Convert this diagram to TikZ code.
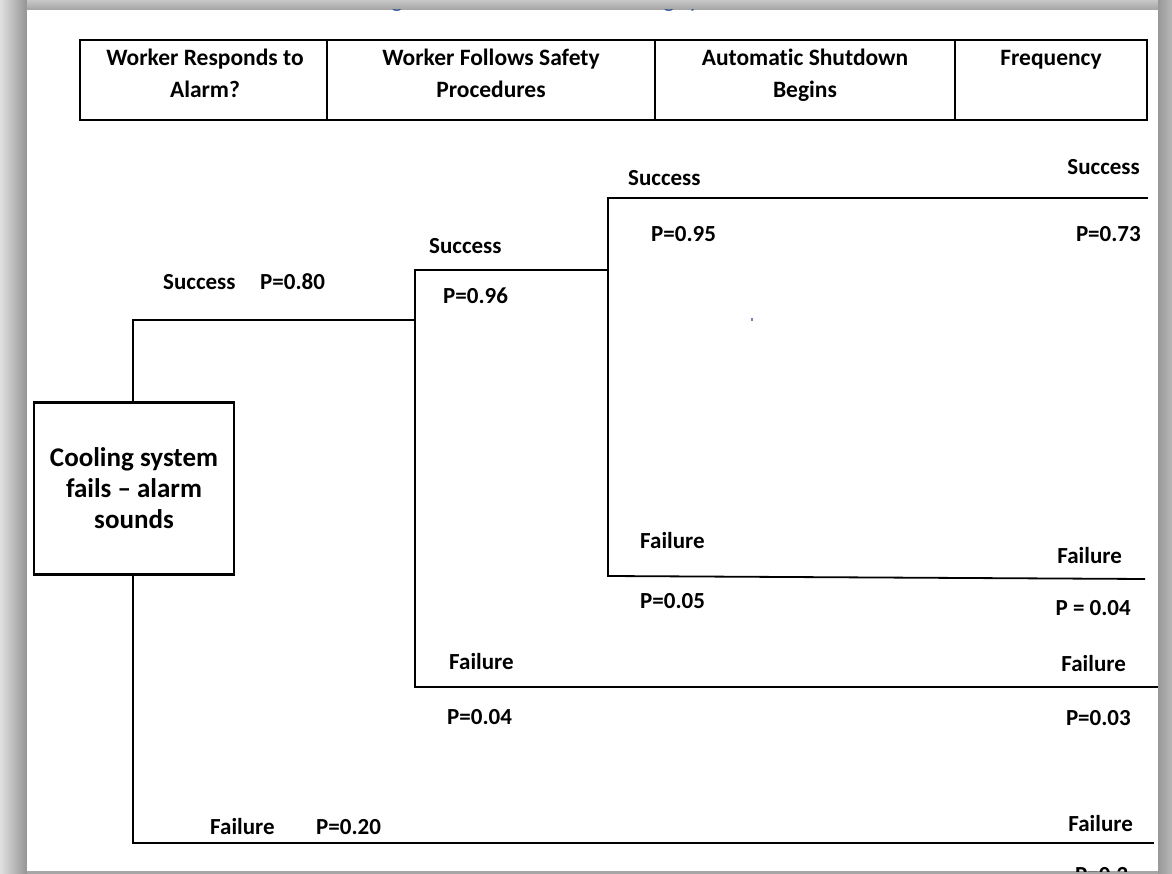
\documentclass[tikz,border=0pt]{standalone}
\usepackage{fontspec}
\usetikzlibrary{calc}
\setmainfont{Carlito}[Ligatures=NoCommon]
\definecolor{capblue}{HTML}{2F5496}
\begin{document}
\begin{tikzpicture}[x=1pt,y=-1pt,
  lbl/.style={font=\fontsize{23}{28}\selectfont\bfseries, inner sep=0pt},
  head/.style={font=\fontsize{23.5}{32}\selectfont\bfseries, inner sep=0pt, align=center},
  branch/.style={line width=1.8pt, line cap=rect},
  stem/.style={line width=1.4pt},
  grid/.style={line width=1.3pt}
]
\useasboundingbox (0,0) rectangle (1172,874);

% drop shadow around the page
\fill[black!33] (0,0) rectangle (1172,874);
\shade[left color=black!12, right color=black!42] (0,0) rectangle (27,874);
\shade[top color=black!22, bottom color=black!36] (27,0) rectangle (1158,10);
\shade[left color=black!40, right color=black!28] (1158,0) rectangle (1172,874);
\fill[black!35] (27,871) rectangle (1158,874);

% page
\fill[white] (27,10) rectangle (1158,871);

\begin{scope}
\clip (27,10) rectangle (1158,871);

% caption line, cut off by the page edge
\node[lbl, font=\fontsize{23}{28}\selectfont, text=capblue, anchor=base] (capa) at (397,8) {g};
\node[lbl, font=\fontsize{23}{28}\selectfont, text=capblue, anchor=base] (capb) at (669,8) {g};
\node[lbl, font=\fontsize{23}{28}\selectfont, text=capblue, anchor=base] (capc) at (694,8) {y};

% header table
\draw[grid] (80,40) rectangle (1147,120);
\draw[grid] (327,40) -- (327,120);
\draw[grid] (655,40) -- (655,120);
\draw[grid] (955,40) -- (955,120);
\node[head, anchor=north] (h1) at (205,49) {Worker Responds to\\Alarm?};
\node[head, anchor=north] (h2) at (491,49) {Worker Follows Safety\\Procedures};
\node[head, anchor=north] (h3) at (805,49) {Automatic Shutdown\\Begins};
\node[head, anchor=base] (h4) at (1051,66) {Frequency};

% initiating event
\node[draw, line width=2.6pt, minimum width=200pt, minimum height=172pt,
      font=\fontsize{27}{31}\selectfont\bfseries, align=center, inner sep=0pt]
      (root) at (134,488.5) {Cooling system\\fails -- alarm\\sounds};

% branch points and ends
\coordinate (a1) at (133,320);
\coordinate (a2) at (133,843);
\coordinate (b0) at (415,320);
\coordinate (b1) at (415,270);
\coordinate (b2) at (415,687);
\coordinate (c0) at (608,270);
\coordinate (c1) at (608,198);
\coordinate (c2) at (608,576);
\coordinate (e1) at (1147,198);
\coordinate (e2) at (1145,579);
\coordinate (e3) at (1157,687);
\coordinate (e4) at (1153,843);
\coordinate (dot) at (752,320);

% tree
\draw[stem] (root.north -| a1) -- (a1);
\draw[stem] (root.south -| a2) -- (a2);
\draw[branch] (a1) -- (b0);
\draw[branch] (a2) -- (e4);
\draw[branch] (b1) -- (b2);
\draw[branch] (b1) -- (c0);
\draw[branch] (b2) -- (e3);
\draw[branch] (c1) -- (c2);
\draw[branch] (c1) -- (e1);
\draw[branch, line cap=butt] (c2) -- (e2);
\fill[capblue!70] ($(dot)+(-1,-1.5)$) rectangle ($(dot)+(1,1.5)$);

% branch labels
\node[lbl, anchor=base west] (l1) at (163,290) {Success};
\node[lbl, anchor=base west] (p1) at (260,290) {P=0.80};
\node[lbl, anchor=base west] (l2) at (210,834) {Failure};
\node[lbl, anchor=base west] (p2) at (316,834) {P=0.20};
\node[lbl, anchor=base west] (l3) at (429,254) {Success};
\node[lbl, anchor=base west] (p3) at (443,304) {P=0.96};
\node[lbl, anchor=base west] (l4) at (449,669) {Failure};
\node[lbl, anchor=base west] (p4) at (447,724) {P=0.04};
\node[lbl, anchor=base west] (l5) at (628,186) {Success};
\node[lbl, anchor=base west] (p5) at (651,242) {P=0.95};
\node[lbl, anchor=base west] (l6) at (640,548) {Failure};
\node[lbl, anchor=base west] (p6) at (640,608) {P=0.05};

% outcome frequencies
\node[lbl, anchor=base east] (o1) at (1140,175) {Success};
\node[lbl, anchor=base east] (q1) at (1141,242) {P=0.73};
\node[lbl, anchor=base east] (o2) at (1122,563) {Failure};
\node[lbl, anchor=base east] (q2) at (1131,615) {P = 0.04};
\node[lbl, anchor=base east] (o3) at (1126,671) {Failure};
\node[lbl, anchor=base east] (q3) at (1131,725) {P=0.03};
\node[lbl, anchor=base east] (o4) at (1133,831) {Failure};
\node[lbl, anchor=base west] (q4) at (1075,882) {P=0.2};
\end{scope}
\end{tikzpicture}
\end{document}
